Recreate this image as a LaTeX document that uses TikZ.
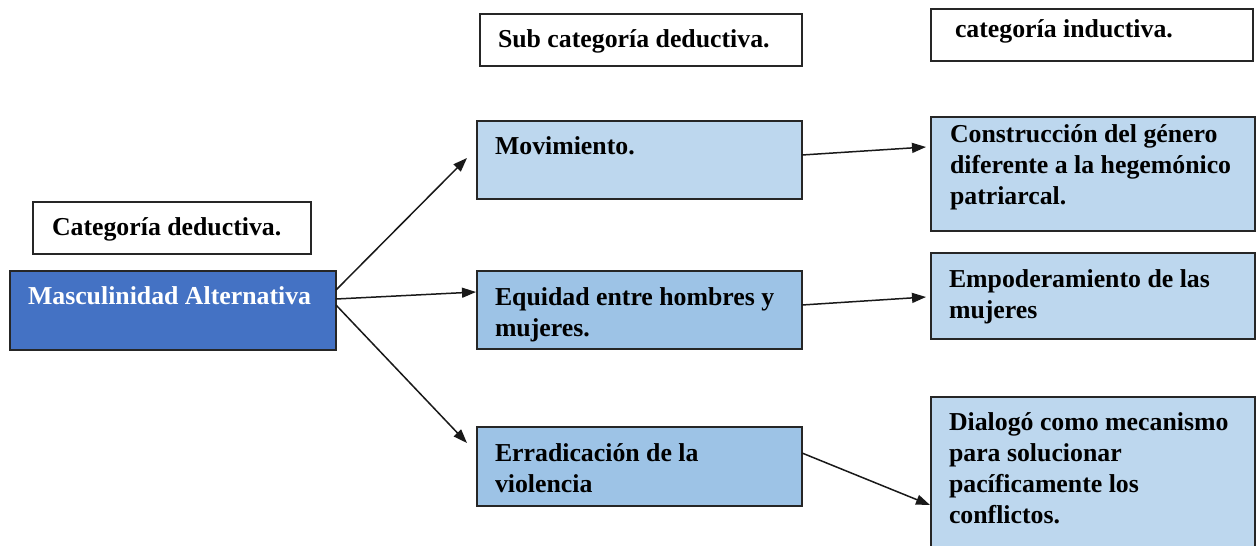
\documentclass[tikz,border=0pt]{standalone}
\usepackage{fontspec}
\setmainfont{Liberation Serif}
\usetikzlibrary{arrows.meta}
\definecolor{darkblue}{HTML}{4472C4}
\definecolor{paleblue}{HTML}{BDD7EE}
\definecolor{midblue}{HTML}{9DC3E6}
\definecolor{edgecol}{HTML}{262626}
\begin{document}
\begin{tikzpicture}[x=1pt,y=-1pt,
  box/.style={draw=edgecol, line width=1.2pt, inner sep=0pt, outer sep=0pt, anchor=north west},
  txt/.style={anchor=north west, inner sep=0pt, outer sep=0pt, align=left, font=\fontsize{25.8}{31}\selectfont\bfseries},
  arr/.style={draw=black!90, line width=1.5pt, -{Triangle[length=14pt,width=10pt]}}]
\useasboundingbox[fill=white] (0,0) rectangle (1256,546);
% header boxes
\node[box, minimum width=278pt, minimum height=52pt] (catdedbox) at (33,202) {};
\node[box, minimum width=322pt, minimum height=52pt] (subbox) at (480,14) {};
\node[box, minimum width=322pt, minimum height=52pt] (indbox) at (931,9) {};
% main boxes
\node[box, fill=darkblue, minimum width=326pt, minimum height=79pt] (mas) at (10,271) {};
\node[box, fill=paleblue, minimum width=325pt, minimum height=78pt] (mov) at (477,121) {};
\node[box, fill=midblue, minimum width=325pt, minimum height=78pt] (equ) at (477,271) {};
\node[box, fill=midblue, minimum width=325pt, minimum height=79pt] (err) at (477,427) {};
\node[box, fill=paleblue, minimum width=324pt, minimum height=114pt] (con) at (931,117) {};
\node[box, fill=paleblue, minimum width=324pt, minimum height=86pt] (emp) at (931,253) {};
\node[box, fill=paleblue, minimum width=324pt, minimum height=160pt] (dia) at (931,397) {};
% texts
\node[txt] (tcatded) at (52,213.3) {\strut Categoría deductiva.};
\node[txt] (tsub) at (498,25.3) {\strut Sub categoría deductiva.};
\node[txt] (tind) at (955,16) {\strut categoría inductiva.};
\node[txt, text=white] (tmas) at (28,282.3) {\strut Masculinidad Alternativa};
\node[txt] (tmov) at (495,132.3) {\strut Movimiento.};
\node[txt] (tequ) at (495,283.3) {\strut Equidad entre hombres y\\mujeres.};
\node[txt] (terr) at (495,439.3) {\strut Erradicación de la\\violencia};
\node[txt] (tcon) at (950,120.3) {\strut Construcción del género\\diferente a la hegemónico\\patriarcal.};
\node[txt] (temp) at (949,265.3) {\strut Empoderamiento de las\\mujeres};
\node[txt] (tdia) at (949,408.7) {\strut Dialogó como mecanismo\\para solucionar\\pacíficamente los\\conflictos.};
% connectors
\draw[arr] ([yshift=20.5pt]mas.east) -- ([xshift=-10pt,yshift=2pt]mov.west);
\draw[arr] ([yshift=11.5pt]mas.east) -- ([xshift=-1pt,yshift=18pt]equ.west);
\draw[arr] ([yshift=5.5pt]mas.east) -- ([xshift=-10pt,yshift=23.5pt]err.west);
\draw[arr] ([yshift=5pt]mov.east) -- ([xshift=-5pt,yshift=27pt]con.west);
\draw[arr] ([yshift=5pt]equ.east) -- ([xshift=-5pt,yshift=-1pt]emp.west);
\draw[arr] ([yshift=13.5pt]err.east) -- ([xshift=-1pt,yshift=-28pt]dia.west);
\end{tikzpicture}
\end{document}
